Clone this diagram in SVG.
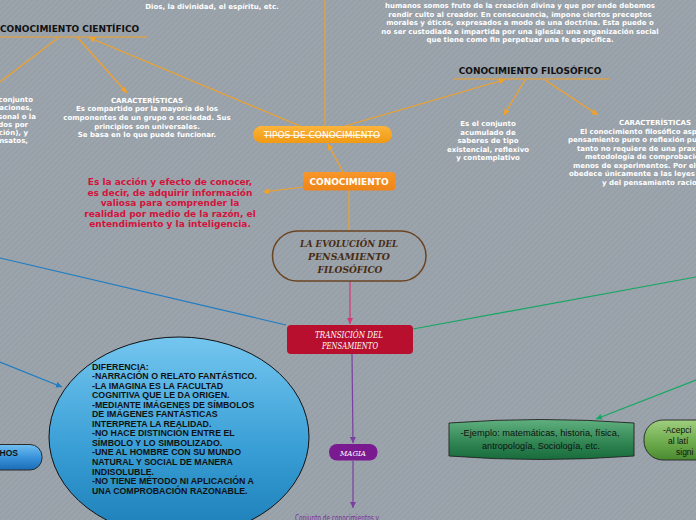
<svg xmlns="http://www.w3.org/2000/svg" width="696" height="520" viewBox="0 0 696 520">
<defs>
<pattern id="bg" width="4" height="4" patternUnits="userSpaceOnUse" patternTransform="rotate(45)"><rect width="4" height="4" fill="#979fa8"/><rect width="2" height="4" fill="#9ca4ac"/></pattern>
<linearGradient id="gOr" x1="0" y1="0" x2="0" y2="1"><stop offset="0" stop-color="#fbb43a"/><stop offset="1" stop-color="#f09a14"/></linearGradient>
<linearGradient id="gOr2" x1="0" y1="0" x2="0" y2="1"><stop offset="0" stop-color="#f7962a"/><stop offset="1" stop-color="#ee8518"/></linearGradient>
<linearGradient id="gEl" x1="0" y1="0" x2="0" y2="1"><stop offset="0" stop-color="#74c6ef"/><stop offset="0.55" stop-color="#3a9fd6"/><stop offset="1" stop-color="#1b7db6"/></linearGradient>
<linearGradient id="gBl" x1="0" y1="0" x2="0" y2="1"><stop offset="0" stop-color="#72bff2"/><stop offset="0.5" stop-color="#3a94dc"/><stop offset="1" stop-color="#1a6cb6"/></linearGradient>
<linearGradient id="gGr" x1="0" y1="0" x2="0" y2="1"><stop offset="0" stop-color="#5fb07e"/><stop offset="0.6" stop-color="#2f8452"/><stop offset="1" stop-color="#186c3c"/></linearGradient>
<linearGradient id="gLg" x1="0" y1="0" x2="0" y2="1"><stop offset="0" stop-color="#9fcf7e"/><stop offset="0.6" stop-color="#6aa84a"/><stop offset="1" stop-color="#4a8a30"/></linearGradient>
<marker id="ao" viewBox="0 0 10 10" refX="10" refY="5" markerWidth="6" markerHeight="6" orient="auto" markerUnits="userSpaceOnUse"><path d="M0,0L10,5L0,10z" fill="#f2a227"/></marker>
<marker id="ap" viewBox="0 0 10 10" refX="10" refY="5" markerWidth="6" markerHeight="6" orient="auto" markerUnits="userSpaceOnUse"><path d="M0,0L10,5L0,10z" fill="#d8357a"/></marker>
<marker id="av" viewBox="0 0 10 10" refX="10" refY="5" markerWidth="6" markerHeight="6" orient="auto" markerUnits="userSpaceOnUse"><path d="M0,0L10,5L0,10z" fill="#7a3fa0"/></marker>
<marker id="ag" viewBox="0 0 10 10" refX="10" refY="5" markerWidth="6" markerHeight="6" orient="auto" markerUnits="userSpaceOnUse"><path d="M0,0L10,5L0,10z" fill="#14a862"/></marker>
<marker id="ab" viewBox="0 0 10 10" refX="10" refY="5" markerWidth="6" markerHeight="6" orient="auto" markerUnits="userSpaceOnUse"><path d="M0,0L10,5L0,10z" fill="#1c7cc4"/></marker>
</defs>
<style>
.w{font-family:"DejaVu Sans",Verdana,sans-serif;font-weight:bold;font-size:7px;fill:#fff;text-anchor:middle}
.ws{font-family:"DejaVu Sans",Verdana,sans-serif;font-weight:bold;font-size:7px;fill:#fff}
.we{font-family:"DejaVu Sans",Verdana,sans-serif;font-weight:bold;font-size:7px;fill:#fff;text-anchor:end}
.hd{font-family:"DejaVu Sans",Verdana,sans-serif;font-weight:bold;font-size:9px;fill:#111}
.red{font-family:"DejaVu Sans",Verdana,sans-serif;font-weight:bold;font-size:9px;fill:#d3133b;text-anchor:middle}
.deco{font-family:"DejaVu Serif",serif;font-style:italic;text-anchor:middle}
.el{font-family:"Liberation Sans",Arial,sans-serif;font-weight:bold;font-size:8.8px;fill:#111}
.hw{font-family:"Liberation Sans",Arial,sans-serif;font-size:8.5px;fill:#111}
.lo{stroke:#f2a227;stroke-width:1.2;fill:none}
</style>
<rect width="696" height="520" fill="url(#bg)"/>

<g id="connectors">
<line class="lo" x1="325" y1="0" x2="325" y2="126"/>
<line class="lo" x1="0" y1="37" x2="147" y2="37"/>
<line class="lo" x1="300" y1="126" x2="89" y2="37.5" marker-end="url(#ao)"/>
<line class="lo" x1="58" y1="38" x2="0" y2="82"/>
<line class="lo" x1="78" y1="38" x2="127" y2="93" marker-end="url(#ao)"/>
<line class="lo" x1="453" y1="79" x2="609" y2="79"/>
<line class="lo" x1="345" y1="126" x2="505" y2="79.5" marker-end="url(#ao)"/>
<line class="lo" x1="525" y1="80" x2="504" y2="115" marker-end="url(#ao)"/>
<line class="lo" x1="545" y1="80" x2="598" y2="115" marker-end="url(#ao)"/>
<line class="lo" x1="343" y1="172" x2="328" y2="144" marker-end="url(#ao)"/>
<line class="lo" x1="303" y1="187" x2="263" y2="192" marker-end="url(#ao)"/>
<line class="lo" x1="349" y1="190" x2="349" y2="231"/>
<line x1="350" y1="281" x2="350" y2="324" stroke="#d8357a" stroke-width="1.2" marker-end="url(#ap)"/>
<line x1="0" y1="258" x2="286" y2="325" stroke="#1c7cc4" stroke-width="1.2"/>
<line x1="0" y1="362" x2="62" y2="387" stroke="#1c7cc4" stroke-width="1.2" marker-end="url(#ab)"/>
<line x1="413" y1="329" x2="696" y2="277" stroke="#14a862" stroke-width="1.2"/>
<line x1="696" y1="380" x2="596" y2="419" stroke="#14a862" stroke-width="1.2" marker-end="url(#ag)"/>
<line x1="352" y1="354" x2="353" y2="443" stroke="#7a3fa0" stroke-width="1.2" marker-end="url(#av)"/>
<line x1="353" y1="461" x2="353" y2="508" stroke="#7a3fa0" stroke-width="1.2" marker-end="url(#av)"/>
</g>

<g id="religioso-texto">
<text class="w" x="212" y="8.5">Dios, la divinidad, el espíritu, etc.</text>
<text class="w" x="520" y="8">humanos somos fruto de la creación divina y que por ende debemos</text>
<text class="w" x="520" y="16.5">rendir culto al creador. En consecuencia, impone ciertos preceptos</text>
<text class="w" x="520" y="25">morales y éticos, expresados a modo de una doctrina. Esta puede o</text>
<text class="w" x="520" y="33.5">no ser custodiada e impartida por una iglesia: una organización social</text>
<text class="w" x="520" y="42">que tiene como fin perpetuar una fe específica.</text>
</g>

<g id="cientifico">
<text class="hd" x="0" y="32">CONOCIMIENTO CIENTÍFICO</text>
</g>
<g id="cientifico-def">
<text class="we" x="33" y="101.5">conjunto</text>
<text class="we" x="32" y="110">aciones,</text>
<text class="we" x="36" y="118.5">sonal o la</text>
<text class="we" x="28" y="126.5">dos por</text>
<text class="we" x="28" y="135">ción), y</text>
<text class="we" x="28" y="143">nsatos,</text>
</g>
<g id="cientifico-caract">
<text class="w" x="147" y="102.5">CARACTERÍSTICAS</text>
<text class="w" x="147" y="111">Es compartido por la mayoría de los</text>
<text class="w" x="147" y="120">componentes de un grupo o sociedad. Sus</text>
<text class="w" x="147" y="128.5">principios son universales.</text>
<text class="w" x="147" y="137">Se basa en lo que puede funcionar.</text>
</g>

<g id="tipos">
<rect x="253" y="126" width="139" height="17" rx="8.5" fill="url(#gOr)"/>
<text x="322" y="138" font-family="DejaVu Sans, Verdana, sans-serif" font-size="9" fill="#fff" text-anchor="middle" text-decoration="line-through">TIPOS DE CONOCIMIENTO</text>
</g>

<g id="filosofico">
<text class="hd" x="530" y="74" text-anchor="middle">CONOCIMIENTO FILOSÓFICO</text>
</g>
<g id="filosofico-def">
<text class="w" x="488" y="126">Es el conjunto</text>
<text class="w" x="488" y="134.5">acumulado de</text>
<text class="w" x="488" y="143">saberes de tipo</text>
<text class="w" x="488" y="151.5">existencial, reflexivo</text>
<text class="w" x="488" y="160">y contemplativo</text>
</g>
<g id="filosofico-caract">
<text class="ws" x="619" y="125">CARACTERÍSTICAS</text>
<text class="ws" x="580" y="133.5">El conocimiento filosófico asp</text>
<text class="ws" x="568" y="142">pensamiento puro o reflexión pu</text>
<text class="ws" x="577" y="150.5">tanto no requiere de una praxis</text>
<text class="ws" x="585" y="159">metodología de comprobación</text>
<text class="ws" x="573" y="167.5">menos de experimentos. Por el</text>
<text class="ws" x="569" y="176">obedece únicamente a las leyes</text>
<text class="ws" x="602" y="185">y del pensamiento racio</text>
</g>

<g id="conocimiento">
<rect x="303" y="172" width="92" height="18.5" rx="3" fill="url(#gOr2)"/>
<text x="349" y="184.5" font-family="DejaVu Sans, Verdana, sans-serif" font-weight="bold" font-size="9" fill="#fff" text-anchor="middle">CONOCIMIENTO</text>
</g>
<g id="definicion">
<text class="red" x="170" y="185">Es la acción y efecto de conocer,</text>
<text class="red" x="170" y="195.5">es decir, de adquirir información</text>
<text class="red" x="170" y="206">valiosa para comprender la</text>
<text class="red" x="170" y="216.5">realidad por medio de la razón, el</text>
<text class="red" x="170" y="227">entendimiento y la inteligencia.</text>
</g>

<g id="principal">
<rect x="272.5" y="231" width="153.5" height="50" rx="25" fill="none" stroke="#6b4522" stroke-width="1.5"/>
<text class="deco" x="349" y="246.5" font-size="9.5" font-weight="bold" fill="#4a2c10" textLength="98" lengthAdjust="spacingAndGlyphs">LA EVOLUCIÓN DEL</text>
<text class="deco" x="349" y="259.5" font-size="9.5" font-weight="bold" fill="#4a2c10" textLength="82" lengthAdjust="spacingAndGlyphs">PENSAMIENTO</text>
<text class="deco" x="350" y="272.5" font-size="9.5" font-weight="bold" fill="#4a2c10" textLength="65" lengthAdjust="spacingAndGlyphs">FILOSÓFICO</text>
</g>

<g id="transicion">
<rect x="287" y="325" width="126" height="29" rx="4" fill="#b80f2e"/>
<text class="deco" x="349" y="337.5" font-size="8.5" fill="#fff" textLength="68" lengthAdjust="spacingAndGlyphs">TRANSICIÓN DEL</text>
<text class="deco" x="350" y="348.5" font-size="8.5" fill="#fff" textLength="56" lengthAdjust="spacingAndGlyphs">PENSAMIENTO</text>
</g>

<g id="diferencia">
<ellipse cx="179" cy="437" rx="130" ry="100" fill="url(#gEl)" stroke="#111" stroke-width="1"/>
<text class="el" x="92" y="369.5">DIFERENCIA:</text>
<text class="el" x="92" y="379">-NARRACIÓN O RELATO FANTÁSTICO.</text>
<text class="el" x="92" y="388.6">-LA IMAGINA ES LA FACULTAD</text>
<text class="el" x="92" y="398.1">COGNITIVA QUE LE DA ORIGEN.</text>
<text class="el" x="92" y="407.7">-MEDIANTE IMÁGENES DE SÍMBOLOS</text>
<text class="el" x="92" y="417.2">DE IMÁGENES FANTÁSTICAS</text>
<text class="el" x="92" y="426.8">INTERPRETA LA REALIDAD.</text>
<text class="el" x="92" y="436.3">-NO HACE DISTINCIÓN ENTRE EL</text>
<text class="el" x="92" y="445.9">SÍMBOLO Y LO SIMBOLIZADO.</text>
<text class="el" x="92" y="455.4">-UNE AL HOMBRE CON SU MUNDO</text>
<text class="el" x="92" y="465">NATURAL Y SOCIAL DE MANERA</text>
<text class="el" x="92" y="474.5">INDISOLUBLE.</text>
<text class="el" x="92" y="484.1">-NO TIENE MÉTODO NI APLICACIÓN A</text>
<text class="el" x="92" y="493.6">UNA COMPROBACIÓN RAZONABLE.</text>
</g>

<g id="hechos">
<rect x="-40" y="444.5" width="82" height="25.5" rx="12" fill="url(#gBl)" stroke="#2a2a2a" stroke-width="1"/>
<text x="18" y="456" font-family="Liberation Sans, Arial, sans-serif" font-weight="bold" font-size="8.5" fill="#111" text-anchor="end">HOS</text>
</g>

<g id="magia">
<rect x="329" y="444" width="48.5" height="16.5" rx="8" fill="#7a1a90"/>
<text class="deco" x="353" y="455.5" font-size="8" fill="#fff" textLength="26" lengthAdjust="spacingAndGlyphs">MAGIA</text>
</g>
<g id="magia-def">
<text x="337" y="521" font-family="DejaVu Sans, Verdana, sans-serif" font-size="9" fill="#7a2a9a" text-anchor="middle" textLength="84" lengthAdjust="spacingAndGlyphs">Conjunto de conocimientos y</text>
</g>

<g id="ejemplo">
<path d="M449,423 Q541,416 634,423 L634,456 Q541,463 449,456 Z" fill="url(#gGr)" stroke="#222" stroke-width="0.9"/>
<text class="hw" x="540" y="436" text-anchor="middle" textLength="159" lengthAdjust="spacingAndGlyphs">-Ejemplo: matemáticas, historia, física,</text>
<text class="hw" x="541" y="449" text-anchor="middle" textLength="118" lengthAdjust="spacingAndGlyphs">antropología, Sociología, etc.</text>
</g>

<g id="acepcion">
<rect x="644" y="420" width="90" height="40" rx="19" fill="url(#gLg)" stroke="#222" stroke-width="0.9"/>
<text class="hw" x="663" y="432.5">-Acepci</text>
<text class="hw" x="668" y="443.5">al latí</text>
<text class="hw" x="676" y="455">signi</text>
</g>
</svg>
